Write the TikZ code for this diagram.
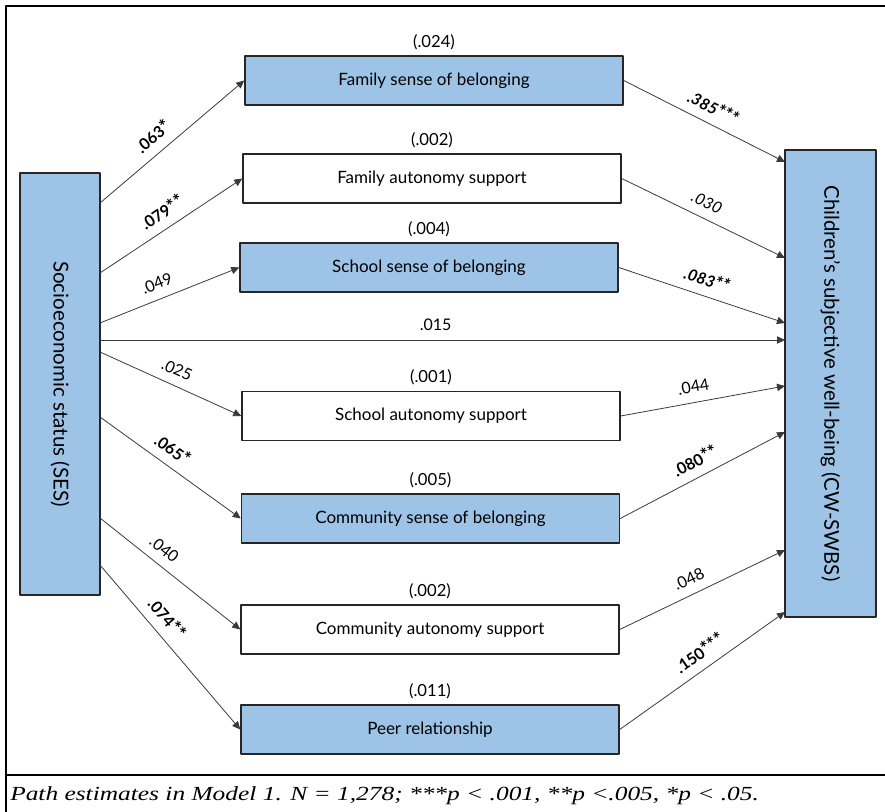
\documentclass[tikz,border=0pt]{standalone}
\usepackage{fontspec}
\setmainfont{Lato}
\newfontfamily\capfont[FakeStretch=1.27]{Liberation Serif}
\usetikzlibrary{arrows.meta,positioning}
\definecolor{BoxBlue}{HTML}{9DC3E6}
\definecolor{LineGray}{HTML}{3A3A3A}
\newcommand{\stars}[1]{{\fontsize{14}{14}\selectfont #1}}

\begin{document}
\begin{tikzpicture}[line cap=round,line join=round,>={Triangle[length=6pt,width=5.5pt]},x=0.75pt,y=-0.75pt,
    bluebox/.style={draw=black!85,line width=1.1pt,fill=BoxBlue,minimum width=283.5pt,minimum height=36.75pt,inner sep=0pt,font=\fontsize{12.75}{15}\selectfont},
    whitebox/.style={bluebox,fill=white},
    rsq/.style={inner sep=1pt,font=\fontsize{12.5}{15}\selectfont},
    path/.style={->,line width=0.6pt,color=LineGray},
    est/.style={sloped,above=6pt,inner sep=1pt,text=black,font=\fontsize{12}{14}\selectfont}]
    \useasboundingbox (0,0) rectangle (885,812);
    \draw[line width=1.6pt] (6,813) -- (6,6) -- (886,6);
    \draw[line width=1.6pt] (6,775) -- (886,775);

    \node[bluebox,minimum width=60pt,minimum height=316.5pt] (ses) at (60,384) {\fontsize{15.4}{18}\selectfont\rotatebox{-90}{Socioeconomic status (SES)}};
    \node[bluebox,minimum width=68.25pt,minimum height=350.25pt] (cw) at (830.5,383.5) {\fontsize{15.3}{18}\selectfont\rotatebox{-90}{Children’s subjective well-being (CW-SWBS)}};

    \node[bluebox] (fsb) at (434,80.5) {Family sense of belonging};
    \node[whitebox] (fas) at (432,178.5) {Family autonomy support};
    \node[bluebox] (ssb) at (429,267.5) {School sense of belonging};
    \node[whitebox] (sas) at (431,416) {School autonomy support};
    \node[bluebox] (csb) at (430.5,518.5) {Community sense of belonging};
    \node[whitebox] (cas) at (430,629.5) {Community autonomy support};
    \node[bluebox] (peer) at (430,729.5) {Peer relationship};

    \node[rsq,above=3pt of fsb] (fsbr) {(.024)};
    \node[rsq,above=3pt of fas] (fasr) {(.002)};
    \node[rsq,above=3pt of ssb] (ssbr) {(.004)};
    \node[rsq,above=3pt of sas] (sasr) {(.001)};
    \node[rsq,above=3pt of csb] (csbr) {(.005)};
    \node[rsq,above=3pt of cas] (casr) {(.002)};
    \node[rsq,above=3pt of peer] (peerr) {(.011)};

    \foreach \n/\y in {1/203,2/273,3/323,4/340,5/352,6/417,7/518,8/565}
        \coordinate (ses\n) at (100,\y);
    \foreach \n/\y in {1/162,2/258,3/323,4/340,5/386,6/432,7/550,8/612}
        \coordinate (cw\n) at (785,\y);

    \draw[path] (ses1) -- node[est,pos=.44] (e1) {\textbf{.063\stars{*}}} (fsb.west);
    \draw[path] (ses2) -- node[est,pos=.50] (e2) {\textbf{.079\stars{**}}} (fas.west);
    \draw[path] (ses3) -- node[est,pos=.45] (e3) {.049} (ssb.west);
    \draw[path] (ses4) -- node[est,pos=.49] (e4) {.015} (cw4);
    \draw[path] (ses5) -- node[est,pos=.50] (e5) {.025} (sas.west);
    \draw[path] (ses6) -- node[est,pos=.45] (e6) {\textbf{.065\stars{*}}} (csb.west);
    \draw[path] (ses7) -- node[est,pos=.39] (e7) {.040} (cas.west);
    \draw[path] (ses8) -- node[est,pos=.39] (e8) {\textbf{.074\stars{**}}} (peer.west);

    \draw[path] (fsb.east) -- node[est,pos=.51] (r1) {\textbf{\textit{.385\stars{***}}}} (cw1);
    \draw[path] (fas.east) -- node[est,pos=.48] (r2) {\textit{.030}} (cw2);
    \draw[path] (ssb.east) -- node[est,pos=.50] (r3) {\textbf{\textit{.083\stars{**}}}} (cw3);
    \draw[path] (sas.east) -- node[est,pos=.46] (r4) {.044} (cw5);
    \draw[path] (csb.east) -- node[est,pos=.50] (r5) {\textbf{.080\stars{**}}} (cw6);
    \draw[path] (cas.east) -- node[est,pos=.46] (r6) {.048} (cw7);
    \draw[path] (peer.east) -- node[est,pos=.54] (r7) {\textbf{.150\stars{***}}} (cw8);

    \node[anchor=base west,inner sep=0pt,font=\capfont\itshape\fontsize{15}{18}\selectfont] (note) at (10,800) {Path estimates in Model 1. N = 1,278; ***p < .001, **p <.005, *p < .05.};
\end{tikzpicture}
\end{document}
